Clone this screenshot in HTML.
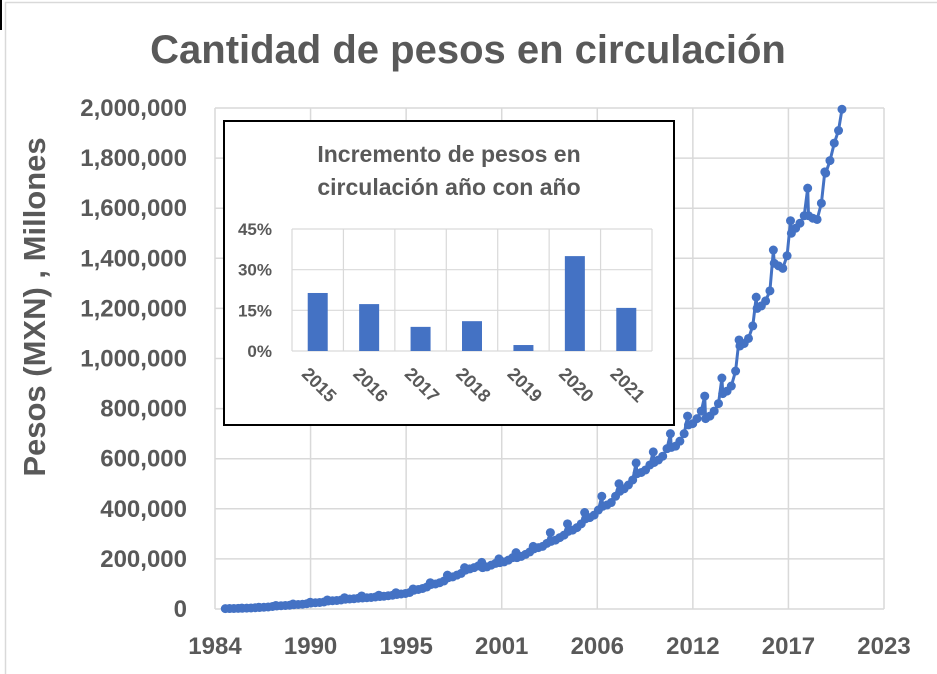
<!DOCTYPE html>
<html><head><meta charset="utf-8">
<style>
html,body{margin:0;padding:0;background:#fff;}
svg{display:block;font-family:"Liberation Sans",sans-serif;}
</style></head>
<body>
<svg id="chart" width="937" height="674" viewBox="0 0 937 674" xmlns="http://www.w3.org/2000/svg">
<rect x="0" y="0" width="937" height="674" fill="#fff"/>
<rect x="5.5" y="2.5" width="940" height="680" fill="none" stroke="#d9d9d9" stroke-width="1.5"/>
<line x1="1" y1="0" x2="1" y2="30" stroke="#000" stroke-width="2"/>
<text x="468" y="63" text-anchor="middle" font-size="40" font-weight="bold" fill="#595959">Cantidad de pesos en circulación</text>
<text transform="translate(45,307) rotate(-90)" text-anchor="middle" font-size="31" font-weight="bold" fill="#595959">Pesos (MXN) , Millones</text>
<g id="grid"></g>
<g id="series"></g>
<g id="yticks"></g>
<g id="xticks"></g>
<g id="inset"></g>
</svg>
<script>
// main series data (time in axis-years, value in millions of pesos)
const times = [];
const values = [];
const years = [1985,1986,1987,1988,1989,1990,1991,1992,1993,1994,1995,1996,1997,1998,1999,2000,2001,2002,2003,2004,2005,2006,2007,2008,2009,2010,2011,2012,2013,2014,2015,2016,2017,2018,2019,2020];
const yearValues = [
[1500,1800,2000,2500,3500],[3000,3500,4000,5000,7000],[6000,7000,8000,10000,14000],
[12000,13000,14000,15000,20000],[17000,18000,19000,21000,27000],[24000,25000,26000,28000,36000],
[32000,33000,34000,36000,45000],[39000,40000,41000,43000,52000],[44000,45000,46000,48000,55000],
[50000,51000,53000,55000,65000],[58000,60000,62000,66000,80000],[75000,78000,82000,88000,105000],
[98000,100000,105000,112000,135000],[125000,128000,135000,142000,165000],[155000,160000,165000,172000,186000],
[165000,168000,175000,182000,200000],[185000,188000,195000,205000,225000],[205000,210000,218000,228000,250000],
[240000,245000,250000,262000,305000],[270000,275000,285000,295000,340000],[310000,315000,325000,340000,385000],
[360000,365000,375000,395000,450000],[410000,415000,425000,450000,500000],[470000,480000,495000,515000,583000],
[540000,545000,555000,575000,627000],[585000,595000,610000,640000,700000],[645000,650000,670000,700000,770000],
[735000,740000,760000,790000,850000],[760000,770000,790000,820000,922000],[860000,870000,890000,950000,1074000],
[1050000,1060000,1080000,1130000,1245000],[1200000,1210000,1230000,1270000,1433000],[1380000,1370000,1360000,1410000,1550000],
[1500000,1520000,1540000,1570000,1680000],[1570000,1560000,1555000,1620000,1745000],[1740000,1790000,1860000,1910000,1995000]
];
const monthOffsets = [-0.4,-0.15,0.1,0.35,0.55];
years.forEach((y,i)=>{ yearValues[i].forEach((v,j)=>{ times.push(y+monthOffsets[j]); values.push(v); }); });
const yTickValues = [0,200000,400000,600000,800000,1000000,1200000,1400000,1600000,1800000,2000000];
const xTickLabels = ["1984","1990","1995","2001","2006","2012","2017","2023"];

// inset data
const insetYears = ["2015","2016","2017","2018","2019","2020","2021"];
const insetPct = [21.4,17.3,8.9,11,2.2,35,15.9];
const insetTicks = [0,15,30,45];

const NS="http://www.w3.org/2000/svg";
function mk(tag,attrs,parent,text){const e=document.createElementNS(NS,tag);for(const k in attrs)e.setAttribute(k,attrs[k]);if(text!==undefined)e.textContent=text;parent.appendChild(e);return e;}
const X0=215,X1=884,Y0=609,Y1=108;
const sx=t=>X0+(t-1984)/(2023-1984)*(X1-X0);
const sy=v=>Y0-v/2000000*(Y0-Y1);
const grid=document.getElementById('grid');
yTickValues.forEach(v=>{
  const l=mk('line',{x1:X0,x2:X1,y1:sy(v),y2:sy(v),stroke:'#d9d9d9','stroke-width':1.5},grid);
  
  
  const t=mk('text',{x:187,y:sy(v)+8,'text-anchor':'end','font-size':24,'font-weight':'bold',fill:'#595959'},document.getElementById('yticks'),v.toLocaleString('en-US'));
  
  
});
xTickLabels.forEach((lab,i)=>{
  const x=X0+i*(X1-X0)/(xTickLabels.length-1);
  const l=mk('line',{x1:x,x2:x,y1:Y1,y2:Y0,stroke:'#d9d9d9','stroke-width':1.5},grid);
  
  
  const t=mk('text',{x:x,y:654,'text-anchor':'middle','font-size':24,'font-weight':'bold',fill:'#595959'},document.getElementById('xticks'),lab);
  
  
});
const ser=document.getElementById('series');
const pts=times.map((t,i)=>sx(t).toFixed(1)+','+sy(values[i]).toFixed(1)).join(' ');
const pl=mk('polyline',{points:pts,fill:'none',stroke:'#4472C4','stroke-width':3,'stroke-linejoin':'round'},ser);


times.forEach((t,i)=>{
  const c=mk('circle',{cx:sx(t),cy:sy(values[i]),r:4.5,fill:'#4472C4'},ser);
  
  
});

// inset
const ins=document.getElementById('inset');
const box=mk('rect',{x:224,y:121,width:450,height:304,fill:'#fff',stroke:'#000','stroke-width':2},ins);


const t1=mk('text',{x:449,y:162,'text-anchor':'middle','font-size':23,'font-weight':'bold',fill:'#595959'},ins,'Incremento de pesos en');


const t2=mk('text',{x:449,y:195,'text-anchor':'middle','font-size':23,'font-weight':'bold',fill:'#595959'},ins,'circulación año con año');


const IX0=292,IX1=652,IY0=351,IY1=229;
const isy=p=>IY0-p/45*(IY0-IY1);
const bw=(IX1-IX0)/insetYears.length;
insetTicks.forEach(p=>{
  const l=mk('line',{x1:IX0,x2:IX1,y1:isy(p),y2:isy(p),stroke:'#d9d9d9','stroke-width':1.2},ins);
  
  
  const t=mk('text',{x:272,y:isy(p)+6,'text-anchor':'end','font-size':17,'font-weight':'bold',fill:'#595959'},ins,p+'%');
  
  
});
for(let i=0;i<=insetYears.length;i++){
  const x=IX0+i*bw;
  const l=mk('line',{x1:x,x2:x,y1:IY1,y2:IY0,stroke:'#d9d9d9','stroke-width':1.2},ins);
  
  
}
insetPct.forEach((p,i)=>{
  const cx=IX0+(i+0.5)*bw;
  const r=mk('rect',{x:cx-10,y:isy(p),width:20,height:IY0-isy(p),fill:'#4472C4'},ins);
  
  
  const t=mk('text',{x:0,y:0,'font-size':18,'font-weight':'bold',fill:'#595959',transform:`translate(${cx-17},${IY0+24}) rotate(45)`},ins,insetYears[i]);
  
  
});
</script>
</body></html>
